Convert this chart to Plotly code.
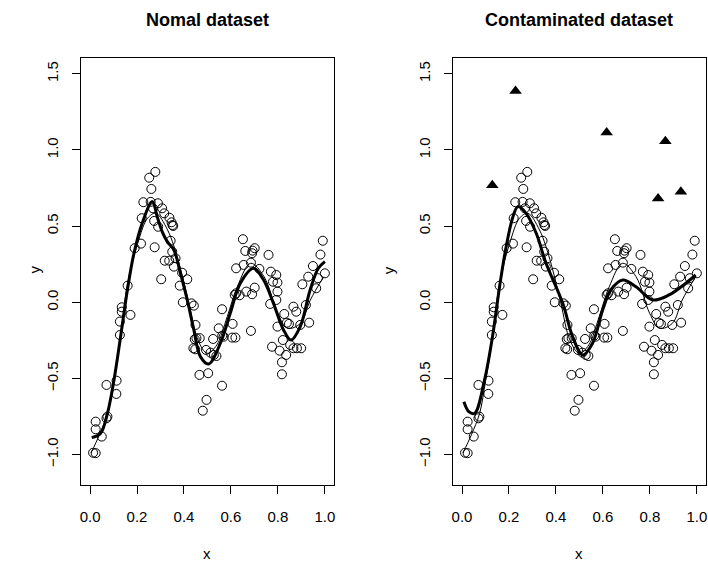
import plotly.graph_objects as go

# ---- data ----
obs_x = [0.013, 0.024, 0.024, 0.024, 0.050, 0.074, 0.070, 0.070, 0.113, 0.112,
         0.127, 0.127, 0.135, 0.135, 0.172, 0.160, 0.190, 0.217, 0.220, 0.227,
         0.252, 0.278, 0.261, 0.258, 0.268, 0.273, 0.275, 0.289, 0.290, 0.307,
         0.316, 0.303, 0.338, 0.347, 0.351, 0.354, 0.343, 0.350, 0.318, 0.337,
         0.357, 0.364, 0.392, 0.414, 0.382, 0.395, 0.432, 0.442, 0.449, 0.446,
         0.453, 0.440, 0.448, 0.466, 0.496, 0.467, 0.494, 0.513, 0.527, 0.538,
         0.503, 0.480, 0.562, 0.524, 0.548, 0.562, 0.563, 0.569, 0.605, 0.619,
         0.607, 0.616, 0.622, 0.637, 0.622, 0.651, 0.661, 0.692, 0.701, 0.690,
         0.654, 0.685, 0.721, 0.665, 0.690, 0.701, 0.685, 0.760, 0.770, 0.793,
         0.779, 0.798, 0.798, 0.767, 0.793, 0.827, 0.838, 0.847, 0.798, 0.821,
         0.775, 0.807, 0.835, 0.852, 0.866, 0.881, 0.899, 0.817, 0.817, 0.866,
         0.878, 0.919, 0.895, 0.933, 0.904, 0.929, 0.949, 0.963, 0.970, 0.981,
         0.991, 1.000]
obs_y = [-0.988, -0.991, -0.784, -0.834, -0.882, -0.751, -0.762, -0.543, -0.515, -0.602,
         -0.215, -0.127, -0.033, -0.062, -0.083, 0.109, 0.355, 0.385, 0.552, 0.657,
         0.818, 0.856, 0.744, 0.659, 0.617, 0.534, 0.361, 0.650, 0.496, 0.617,
         0.584, 0.151, 0.555, 0.525, 0.507, 0.501, 0.404, 0.332, 0.273, 0.273,
         0.234, 0.289, 0.194, 0.151, 0.109, 0.000, -0.007, -0.022, -0.149, -0.243,
         -0.236, -0.302, -0.309, -0.477, -0.641, -0.236, -0.313, -0.331, -0.346, -0.353,
         -0.466, -0.712, -0.548, -0.241, -0.171, -0.046, -0.219, -0.226, -0.232, -0.232,
         -0.142, 0.048, 0.059, 0.046, 0.223, 0.414, 0.337, 0.339, 0.355, 0.322,
         0.245, 0.260, 0.219, 0.070, 0.053, 0.096, -0.188, 0.311, 0.201, 0.179,
         0.135, 0.129, 0.070, -0.011, 0.015, -0.077, -0.134, -0.142, -0.160, -0.248,
         -0.292, -0.318, -0.346, -0.280, -0.302, -0.302, -0.302, -0.394, -0.473, -0.029,
         -0.062, -0.018, -0.149, -0.134, 0.118, 0.168, 0.238, 0.092, 0.158, 0.313,
         0.404, 0.190]

outlier_x = [0.129, 0.228, 0.616, 0.866, 0.835, 0.932]
outlier_y = [0.769, 1.387, 1.114, 1.057, 0.681, 0.725]

true_x = [0.004, 0.040, 0.075, 0.100, 0.125, 0.160, 0.203, 0.245, 0.280, 0.330,
          0.380, 0.420, 0.460, 0.499, 0.540, 0.584, 0.627, 0.684, 0.741, 0.799,
          0.841, 0.896, 0.938, 0.995]
true_y = [-0.990, -0.870, -0.730, -0.520, -0.290, 0.125, 0.387, 0.552, 0.584, 0.475,
          0.250, 0.000, -0.250, -0.335, -0.280, -0.095, 0.102, 0.256, 0.168, -0.072,
          -0.171, -0.138, 0.015, 0.168]

fit_normal_x = [0.007, 0.045, 0.074, 0.102, 0.130, 0.159, 0.187, 0.222, 0.265, 0.286,
                0.307, 0.329, 0.357, 0.385, 0.414, 0.442, 0.470, 0.505, 0.555, 0.597,
                0.640, 0.696, 0.739, 0.781, 0.824, 0.856, 0.895, 0.937, 0.972, 1.000]
fit_normal_y = [-0.889, -0.860, -0.729, -0.510, -0.226, 0.081, 0.322, 0.519, 0.661, 0.562,
                0.464, 0.398, 0.343, 0.190, 0.015, -0.182, -0.357, -0.405, -0.269, -0.072,
                0.125, 0.223, 0.146, -0.007, -0.182, -0.248, -0.160, 0.081, 0.223, 0.267]

fit_contam_x = [0.008, 0.030, 0.054, 0.096, 0.132, 0.160, 0.188, 0.217, 0.238, 0.273,
                0.316, 0.358, 0.429, 0.471, 0.514, 0.556, 0.599, 0.634, 0.684, 0.741,
                0.811, 0.882, 0.953, 0.995]
fit_contam_y = [-0.653, -0.720, -0.729, -0.510, -0.204, 0.102, 0.365, 0.562, 0.628, 0.584,
                0.453, 0.256, -0.007, -0.226, -0.346, -0.269, -0.051, 0.081, 0.146, 0.102,
                0.015, 0.048, 0.125, 0.179]

titles = ["Nomal dataset", "Contaminated dataset"]
x_ticks = [0.0, 0.2, 0.4, 0.6, 0.8, 1.0]
y_ticks = [-1.0, -0.5, 0.0, 0.5, 1.0, 1.5]

FONT = "Liberation Sans, Arial, Helvetica, sans-serif"
W, H = 708, 563

fig = go.Figure()

circle = dict(symbol="circle-open", size=9, color="black", line=dict(width=1, color="black"))

# left panel
fig.add_trace(go.Scatter(x=obs_x, y=obs_y, mode="markers", marker=circle,
                         xaxis="x", yaxis="y", showlegend=False))
fig.add_trace(go.Scatter(x=true_x, y=true_y, mode="lines", line=dict(color="black", width=1, shape="spline"),
                         xaxis="x", yaxis="y", showlegend=False))
fig.add_trace(go.Scatter(x=fit_normal_x, y=fit_normal_y, mode="lines",
                         line=dict(color="black", width=3, shape="spline"),
                         xaxis="x", yaxis="y", showlegend=False))

# right panel
fig.add_trace(go.Scatter(x=obs_x, y=obs_y, mode="markers", marker=circle,
                         xaxis="x2", yaxis="y2", showlegend=False))
fig.add_trace(go.Scatter(x=outlier_x, y=outlier_y, mode="markers",
                         marker=dict(symbol="triangle-up", size=11, color="black"),
                         xaxis="x2", yaxis="y2", showlegend=False))
fig.add_trace(go.Scatter(x=true_x, y=true_y, mode="lines", line=dict(color="black", width=1, shape="spline"),
                         xaxis="x2", yaxis="y2", showlegend=False))
fig.add_trace(go.Scatter(x=fit_contam_x, y=fit_contam_y, mode="lines",
                         line=dict(color="black", width=3, shape="spline"),
                         xaxis="x2", yaxis="y2", showlegend=False))

xdom1 = [80 / W, 334 / W]
xdom2 = [453 / W, 707 / W]
ydom = [1 - 485 / H, 1 - 58.3 / H]

common_x = dict(range=[-0.0395, 1.039], tickvals=x_ticks, tickformat=".1f",
                showline=True, mirror=True, linecolor="black", linewidth=1,
                ticks="outside", ticklen=8, tickcolor="black", tickwidth=1,
                ticklabelstandoff=10, showgrid=False, zeroline=False,
                tickfont=dict(family=FONT, size=15, color="black"))
common_y = dict(range=[-1.2, 1.602], tickvals=y_ticks, tickformat=".1f",
                showline=True, mirror=True, linecolor="black", linewidth=1,
                ticks="outside", ticklen=8, tickcolor="black", tickwidth=1,
                ticklabelstandoff=8, showgrid=False, zeroline=False, tickangle=-90,
                tickfont=dict(family=FONT, size=15, color="black"))

fig.update_layout(
    width=W, height=H,
    margin=dict(l=0, r=0, t=0, b=0),
    paper_bgcolor="white", plot_bgcolor="white",
    xaxis=dict(domain=xdom1, anchor="y", **common_x),
    yaxis=dict(domain=ydom, anchor="x", **common_y),
    xaxis2=dict(domain=xdom2, anchor="y2", **common_x),
    yaxis2=dict(domain=ydom, anchor="x2", **common_y),
)

annotations = []
for dom, ylab_x, title in [(xdom1, 32.7, titles[0]), (xdom2, 388.3, titles[1])]:
    cx = (dom[0] + dom[1]) / 2
    annotations.append(dict(text="<b>%s</b>" % title, x=cx, y=1 - 20 / H, xref="paper", yref="paper",
                            xanchor="center", yanchor="middle", showarrow=False,
                            font=dict(family=FONT, size=18, color="black")))
    annotations.append(dict(text="x", x=cx, y=1 - 553 / H, xref="paper", yref="paper",
                            xanchor="center", yanchor="middle", showarrow=False,
                            font=dict(family=FONT, size=15, color="black")))
    annotations.append(dict(text="y", x=ylab_x / W, y=1 - 270 / H, xref="paper", yref="paper",
                            xanchor="center", yanchor="middle", showarrow=False, textangle=-90,
                            font=dict(family=FONT, size=15, color="black")))
fig.update_layout(annotations=annotations)

fig.write_html("out.html", config={"displayModeBar": False},
               post_script="document.body.style.margin='0';document.body.style.overflow='hidden';")
